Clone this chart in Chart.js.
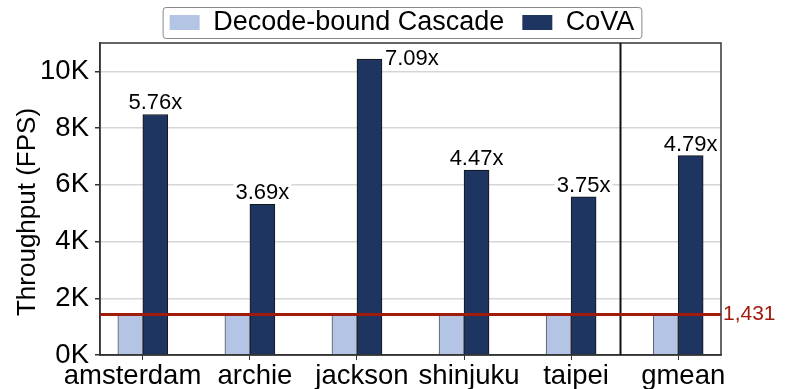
<!DOCTYPE html>
<html>
<head>
<meta charset="utf-8">
<script src="https://cdn.jsdelivr.net/npm/chart.js@4.4.1/dist/chart.umd.min.js"></script>
<style>
  html, body { margin: 0; padding: 0; background: #fff; }
</style>
</head>
<body>
<canvas id="chart" width="789" height="389"></canvas>
<script>
// Throughput per video: decode-bound cascade vs CoVA

const categories = ['amsterdam', 'archie', 'jackson', 'shinjuku', 'taipei', 'gmean']
const decodeBound = [1431, 1431, 1431, 1431, 1431, 1431]
const cova = [8480, 5310, 10430, 6520, 5580, 7030]
const speedups = ['5.76x', '3.69x', '7.09x', '4.47x', '3.75x', '4.79x']
const baseline = 1431
const baselineLabel = '1,431'
const yTicks = [0, 2000, 4000, 6000, 8000, 10000]

const FONT = '"Liberation Sans", Arial, Helvetica, sans-serif'
const RED = '#a11b0c'

const decorations = {
    id: 'decorations',
    afterLayout(chart) {
        //Nudge the legend a little left, as in the figure.
        const legend = chart.legend
        legend.left -= 8.5
        legend.right -= 8.5
    },
    beforeDraw(chart) {
        const ctx = chart.ctx
        ctx.save()
        ctx.fillStyle = '#fff'
        ctx.fillRect(0, 0, chart.width, chart.height)
        ctx.restore()
    },
    afterDatasetsDraw(chart) {
        const {ctx, chartArea: a, scales: {x, y}} = chart
        ctx.save()

        //Frame round the plot.
        ctx.strokeStyle = '#333'
        ctx.lineWidth = 1.5
        ctx.strokeRect(a.left, a.top, a.right - a.left, a.bottom - a.top)

        //Separator before the gmean group.
        const sx = Math.round(x.getPixelForValue(categories.length - 1.54)) + 0.5
        ctx.strokeStyle = '#111'
        ctx.lineWidth = 2
        ctx.beginPath()
        ctx.moveTo(sx, a.top)
        ctx.lineTo(sx, a.bottom)
        ctx.stroke()

        //Baseline throughput.
        const by = y.getPixelForValue(baseline)
        ctx.strokeStyle = RED
        ctx.lineWidth = 3
        ctx.beginPath()
        ctx.moveTo(a.left, by)
        ctx.lineTo(a.right, by)
        ctx.stroke()
        ctx.fillStyle = RED
        ctx.font = '21px ' + FONT
        ctx.textAlign = 'left'
        ctx.textBaseline = 'middle'
        ctx.fillText(baselineLabel, a.right + 2, by)

        //Speedup labels over the CoVA bars.
        ctx.font = '22px ' + FONT
        ctx.textBaseline = 'alphabetic'
        chart.getDatasetMeta(1).data.forEach((bar, i) => {
            const text = speedups[i]
            const w = ctx.measureText(text).width
            let tx = bar.x - w / 2
            let ty = bar.y - 5
            if (ty - 18 < a.top) {
                tx = bar.x + bar.width / 2 + 3
                ty = bar.y + 6
            }
            ctx.fillStyle = '#fff'
            ctx.fillRect(tx - 2, ty - 17, w + 4, 20)
            ctx.fillStyle = '#000'
            ctx.textAlign = 'left'
            ctx.fillText(text, tx, ty)
        })

        //Axis title.
        ctx.save()
        ctx.translate(28, 212)
        ctx.rotate(-Math.PI / 2)
        ctx.fillStyle = '#000'
        ctx.font = '26px ' + FONT
        ctx.textAlign = 'center'
        ctx.textBaseline = 'middle'
        ctx.fillText('Throughput (FPS)', 0, 0)
        ctx.restore()

        ctx.restore()
    },
    afterDraw(chart) {
        //Rounded frame round the legend.
        const hb = chart.legend.legendHitBoxes
        if (!hb || !hb.length) return
        const ctx = chart.ctx
        const last = hb[hb.length - 1]
        const l = hb[0].left - 7
        const r = last.left + last.width + 7
        const t = hb[0].top - 2
        const b = hb[0].top + hb[0].height + 2
        ctx.save()
        ctx.strokeStyle = '#888'
        ctx.lineWidth = 1
        ctx.beginPath()
        ctx.roundRect(l + 0.5, t + 0.5, r - l, b - t, 3)
        ctx.stroke()
        ctx.restore()
    }
}

const ctx = document.getElementById('chart').getContext('2d')
new Chart(ctx, {
    type: 'bar',
    data: {
        datasets: [
            {
                label: 'Decode-bound Cascade',
                data: decodeBound.map((v, i) => ({x: i, y: v})),
                backgroundColor: '#b4c4e4',
                borderColor: '#555',
                borderWidth: 1,
                barThickness: 25
            },
            {
                label: 'CoVA',
                data: cova.map((v, i) => ({x: i, y: v})),
                backgroundColor: '#1f3561',
                borderColor: '#151515',
                borderWidth: 1,
                barThickness: 25
            }
        ]
    },
    options: {
        responsive: false,
        animation: false,
        layout: { padding: { top: -9, right: 68, left: 0, bottom: 0 } },
        plugins: {
            tooltip: { enabled: false },
            legend: {
                position: 'top',
                fullSize: false,
                maxHeight: 52,
                labels: {
                    color: '#000',
                    font: { family: FONT, size: 27 },
                    boxWidth: 30,
                    boxHeight: 15,
                    padding: 18,
                    generateLabels: chart => Chart.defaults.plugins.legend.labels.generateLabels(chart)
                        .map(item => ({...item, lineWidth: 0}))
                }
            }
        },
        scales: {
            x: {
                type: 'linear',
                offset: false,
                min: -0.4,
                max: categories.length - 0.6,
                afterBuildTicks: s => { s.ticks = categories.map((_, i) => ({value: i})) },
                afterFit: s => { s.height = 34 },
                ticks: {
                    //first label sits a bit left of its tick in the figure
                    callback: v => v === 0 ? categories[v] + '    ' : categories[v],
                    color: '#000',
                    font: { family: FONT, size: 27.5 },
                    padding: 0,
                    labelOffset: 5,
                    autoSkip: false,
                    maxRotation: 0
                },
                grid: { offset: false, drawOnChartArea: false, tickLength: 5, tickColor: '#333' },
                border: { color: '#333', width: 1.5 }
            },
            y: {
                min: 0,
                max: 11000,
                afterBuildTicks: s => { s.ticks = yTicks.map(v => ({value: v})) },
                afterFit: s => { s.width = 100 },
                ticks: {
                    callback: v => (v / 1000) + 'K',
                    color: '#000',
                    font: { family: FONT, size: 27.5 },
                    padding: 6
                },
                grid: { color: '#d6d6d6', lineWidth: 1.5, tickLength: 5, tickColor: '#333' },
                border: { color: '#333', width: 1.5 }
            }
        }
    },
    plugins: [decorations]
})
</script>
</body>
</html>
